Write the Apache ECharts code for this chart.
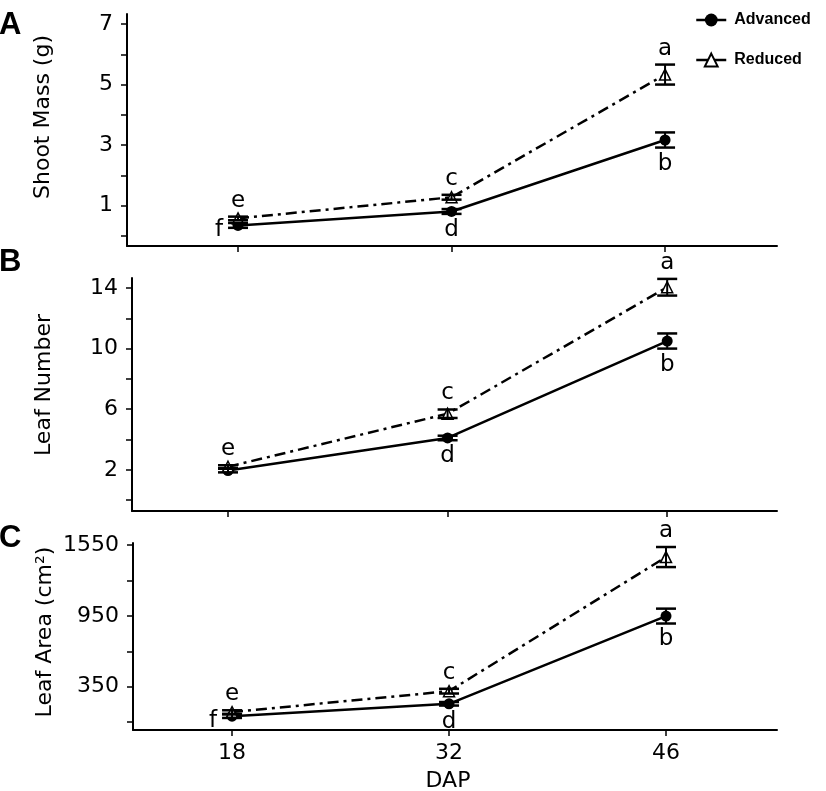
<!DOCTYPE html>
<html>
<head>
<meta charset="utf-8">
<script src="https://cdn.jsdelivr.net/npm/echarts@6/dist/echarts.min.js"></script>
<style>html,body{margin:0;padding:0;background:#fff;}#c{width:826px;height:791px;}</style>
</head>
<body>
<div id="c"></div>
<script>
// ---- data ----
const days = [18, 32, 46];

const shootAdv = [0.35, 0.81, 3.17];
const shootAdvSE = [0.08, 0.08, 0.25];
const shootRed = [0.58, 1.28, 5.33];
const shootRedSE = [0.06, 0.08, 0.33];
const shootAdvLetters = ['f', 'd', 'b'];
const shootRedLetters = ['e', 'c', 'a'];
const shootTickLabels = [1, 3, 5, 7];
const shootTicks = [0, 1, 2, 3, 4, 5, 6, 7];

const leafAdv = [1.95, 4.1, 10.5];
const leafAdvSE = [0.12, 0.15, 0.5];
const leafRed = [2.2, 5.7, 14.05];
const leafRedSE = [0.1, 0.28, 0.55];
const leafAdvLetters = ['', 'd', 'b'];
const leafRedLetters = ['e', 'c', 'a'];
const leafTickLabels = [2, 6, 10, 14];
const leafTicks = [0, 2, 4, 6, 8, 10, 12, 14];

const areaAdv = [100, 205, 948];
const areaAdvSE = [15, 15, 63];
const areaRed = [135, 312, 1448];
const areaRedSE = [15, 20, 85];
const areaAdvLetters = ['f', 'd', 'b'];
const areaRedLetters = ['e', 'c', 'a'];
const areaTickLabels = [350, 950, 1550];
const areaTicks = [50, 350, 650, 950, 1250, 1550];

const seriesNames = ['Advanced', 'Reduced'];
const yTitles = ['Shoot Mass (g)', 'Leaf Number', 'Leaf Area (cm\u00B2)'];
const panelLetters = ['A', 'B', 'C'];
const xTitle = 'DAP';

// ---- chart ----
const FONT = '"DejaVu Sans", sans-serif';
const chart = echarts.init(document.getElementById('c'));

const grids = [
  {left: 127, top: 14, width: 650, height: 232},
  {left: 132, top: 278, width: 645, height: 233},
  {left: 133, top: 543, width: 644, height: 187}
];
const xRanges = [[10.72, 53.34], [11.88, 53.0], [11.61, 53.16]];
const yRanges = [[-0.33, 7.33], [-0.72, 14.66], [-17, 1567]];
const yLabelVals = [shootTickLabels, leafTickLabels, areaTickLabels];
const yTickVals = [shootTicks, leafTicks, areaTicks];

const panels = [
  {adv: shootAdv, advSE: shootAdvSE, red: shootRed, redSE: shootRedSE, advL: shootAdvLetters, redL: shootRedLetters},
  {adv: leafAdv, advSE: leafAdvSE, red: leafRed, redSE: leafRedSE, advL: leafAdvLetters, redL: leafRedLetters},
  {adv: areaAdv, advSE: areaAdvSE, red: areaRed, redSE: areaRedSE, advL: areaAdvLetters, redL: areaRedLetters}
];

function errRender(letters, isAdv) {
  return function (params, api) {
    const x = api.value(0), m = api.value(1), s = api.value(2);
    const top = api.coord([x, m + s]);
    const bot = api.coord([x, m - s]);
    const pt = api.coord([x, m]);
    const hw = 10;
    const st = {stroke: '#000', lineWidth: 2.5};
    const children = [
      {type: 'line', shape: {x1: top[0], y1: top[1], x2: bot[0], y2: bot[1]}, style: {stroke: '#000', lineWidth: 2}},
      {type: 'line', shape: {x1: top[0] - hw, y1: top[1], x2: top[0] + hw, y2: top[1]}, style: st},
      {type: 'line', shape: {x1: bot[0] - hw, y1: bot[1], x2: bot[0] + hw, y2: bot[1]}, style: st}
    ];
    const letter = letters[params.dataIndex];
    if (letter) {
      let tx = pt[0], ty;
      if (!isAdv) ty = top[1] - 16;
      else if (params.dataIndex === 0) { tx = pt[0] - 19; ty = pt[1] + 5; }
      else ty = bot[1] + 16;
      children.push({type: 'text', style: {text: letter, x: tx, y: ty, align: 'center', verticalAlign: 'middle',
        font: '23px ' + FONT, fill: '#000'}});
    }
    return {type: 'group', children: children};
  };
}

const xAxes = [], yAxes = [], series = [];
panels.forEach(function (p, i) {
  xAxes.push({
    type: 'value', gridIndex: i, min: xRanges[i][0], max: xRanges[i][1],
    axisLine: {show: true, onZero: false, lineStyle: {color: '#000', width: 2}},
    axisTick: {show: true, customValues: days, length: 6, lineStyle: {color: '#000', width: 1.5}},
    axisLabel: {show: i === 2, customValues: days, color: '#000', fontSize: 22, fontFamily: FONT, margin: 12,
      formatter: function (v) { return String(v); }},
    splitLine: {show: false}
  });
  yAxes.push({
    type: 'value', gridIndex: i, min: yRanges[i][0], max: yRanges[i][1],
    axisLine: {show: true, onZero: false, lineStyle: {color: '#000', width: 2}},
    axisTick: {show: true, customValues: yTickVals[i], length: 6, lineStyle: {color: '#000', width: 1.5}},
    axisLabel: {show: true, customValues: yLabelVals[i], color: '#000', fontSize: 22, fontFamily: FONT, margin: 14,
      formatter: function (v) { return String(v); }},
    splitLine: {show: false}
  });
  series.push({
    name: seriesNames[0], type: 'line', xAxisIndex: i, yAxisIndex: i, z: 3,
    data: days.map(function (d, k) { return [d, p.adv[k]]; }),
    symbol: 'circle', symbolSize: 11,
    itemStyle: {color: '#000'},
    lineStyle: {color: '#000', width: 2.5, type: 'solid'}
  });
  series.push({
    name: seriesNames[1], type: 'line', xAxisIndex: i, yAxisIndex: i, z: 3,
    data: days.map(function (d, k) { return [d, p.red[k]]; }),
    symbol: 'triangle', symbolSize: 11, showAllSymbol: true,
    itemStyle: {color: '#fff', borderColor: '#000', borderWidth: 1.5},
    lineStyle: {color: '#000', width: 2.5, type: [11, 5, 3, 5]}
  });
  series.push({
    type: 'custom', xAxisIndex: i, yAxisIndex: i, z: 4, silent: true,
    renderItem: errRender(p.advL, true),
    data: days.map(function (d, k) { return [d, p.adv[k], p.advSE[k]]; })
  });
  series.push({
    type: 'custom', xAxisIndex: i, yAxisIndex: i, z: 4, silent: true,
    renderItem: errRender(p.redL, false),
    data: days.map(function (d, k) { return [d, p.red[k], p.redSE[k]]; })
  });
});

const titlePos = [[43, 117], [44, 385], [45, 632]];
const letterPos = [[-1, 25], [-1, 262], [-1, 538]];
const graphics = [];
yTitles.forEach(function (t, i) {
  graphics.push({type: 'text', x: titlePos[i][0], y: titlePos[i][1], rotation: Math.PI / 2,
    style: {text: t, align: 'center', verticalAlign: 'middle', font: '22px ' + FONT, fill: '#000'}});
});
panelLetters.forEach(function (t, i) {
  graphics.push({type: 'text', x: letterPos[i][0], y: letterPos[i][1],
    style: {text: t, align: 'left', verticalAlign: 'middle', font: 'bold 31px "Liberation Sans", Arial, sans-serif', fill: '#000'}});
});
graphics.push({type: 'text', x: 448, y: 781,
  style: {text: xTitle, align: 'center', verticalAlign: 'middle', font: '22px ' + FONT, fill: '#000'}});

chart.setOption({
  animation: false,
  backgroundColor: '#fff',
  grid: grids,
  xAxis: xAxes,
  yAxis: yAxes,
  series: series,
  legend: {
    data: seriesNames, orient: 'vertical', left: 695, top: 12, padding: 0,
    itemWidth: 30, itemHeight: 16, itemGap: 24,
    lineStyle: {type: 'solid', width: 2.5},
    textStyle: {fontSize: 16, fontWeight: 'bold', color: '#000', fontFamily: '"Liberation Sans", Arial, sans-serif', padding: [0, 0, 0, 3]}
  },
  graphic: graphics
});
</script>
</body>
</html>
